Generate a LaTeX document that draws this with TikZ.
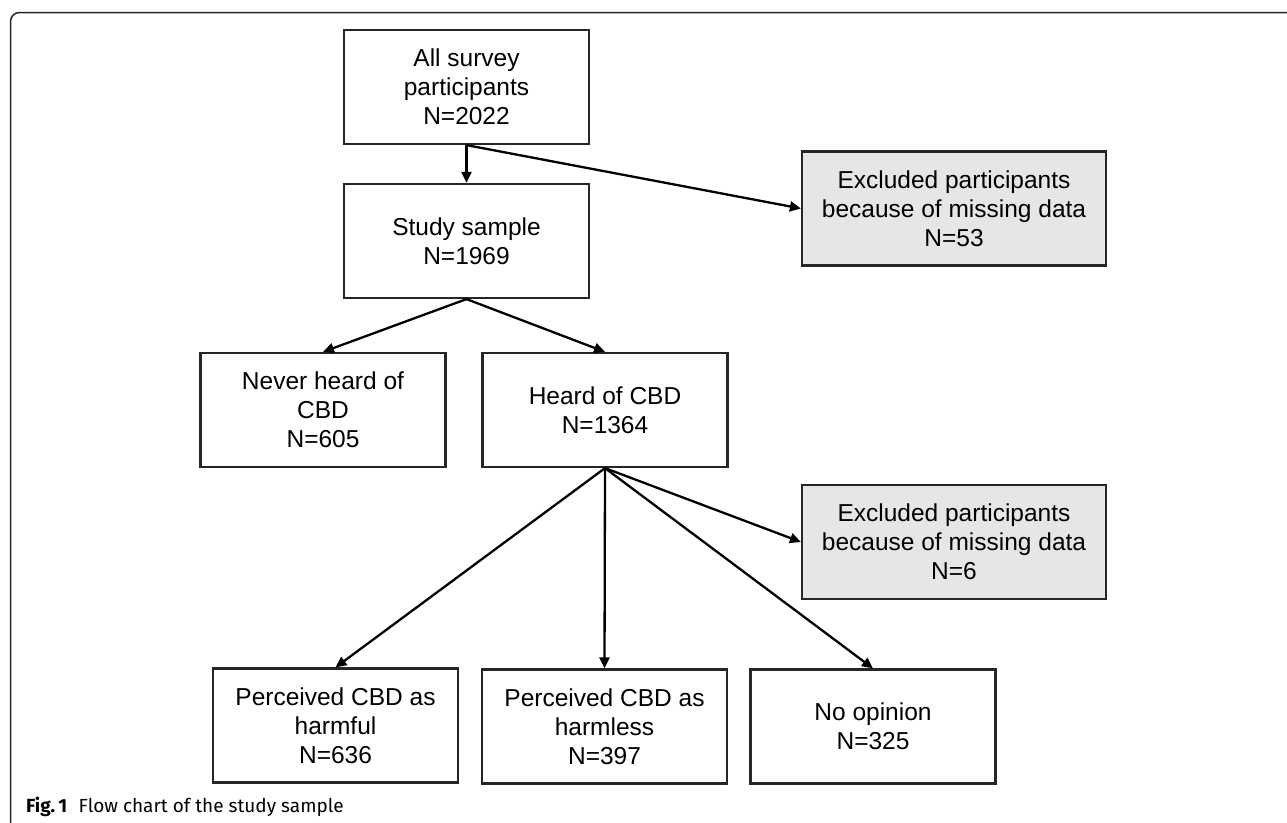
\documentclass[tikz,border=0pt]{standalone}
\usepackage{fontspec}
\setmainfont{Liberation Sans}
\newfontfamily\capfont{Fira Sans}
\usetikzlibrary{arrows.meta}
\definecolor{boxgray}{HTML}{E6E6E6}
\definecolor{edge}{HTML}{262626}
\tikzset{
  fbox/.style={draw=edge, line width=2.2pt, inner sep=0pt, align=center,
    minimum width=245pt, minimum height=114pt,
    font=\fontsize{24.5}{29}\selectfont},
  exbox/.style={fbox, fill=boxgray, minimum width=304pt},
  conn/.style={draw=black, line width=2.3pt, -{Triangle[length=11pt,width=10pt]}}
}
\begin{document}
\begin{tikzpicture}[x=1pt,y=-1pt]
\useasboundingbox (0,0) rectangle (1287,822);
% outer frame
\draw[edge, line width=1.5pt, rounded corners=9pt] (10.5,840) -- (10.5,12.5) -- (1300,12.5);
% boxes
\node[fbox] (all) at (466.5,87) {All survey\\participants\\N=2022};
\node[fbox] (study) at (466.5,241) {Study sample\\N=1969};
\node[exbox] (ex1) at (954,208.5) {Excluded participants\\because of missing data\\N=53};
\node[fbox] (never) at (323,410) {Never heard of\\CBD\\N=605};
\node[fbox] (heard) at (605,410) {Heard of CBD\\N=1364};
\node[exbox] (ex2) at (954,542) {Excluded participants\\because of missing data\\N=6};
\node[fbox] (harmful) at (335.5,725.5) {Perceived CBD as\\harmful\\N=636};
\node[fbox] (harmless) at (604.5,726.5) {Perceived CBD as\\harmless\\N=397};
\node[fbox] (noop) at (873,726.5) {No opinion\\N=325};
% connectors
\draw[conn] (all.south) -- (study.north);
\draw[conn] (all.south) -- (ex1.west);
\draw[conn] (study.south) -- (never.north);
\draw[conn] (study.south) -- (heard.north);
\draw[conn] (heard.south) -- (ex2.west);
\draw[conn] (heard.south) -- (harmful.north);
\draw[conn] (heard.south) -- (harmless.north);
\draw[conn] (heard.south) -- (noop.north);
% caption
\node[anchor=base west, inner sep=0pt, font=\capfont\fontsize{19}{21}\selectfont] (cap) at (26,812) {\textbf{Fig.\,1}\hspace{0.6em}Flow chart of the study sample};
\end{tikzpicture}
\end{document}
